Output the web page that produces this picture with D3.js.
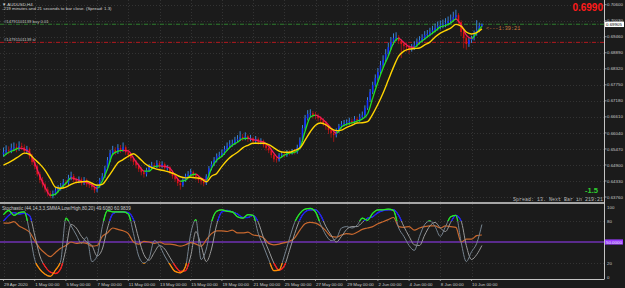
<!DOCTYPE html>
<html>
<head>
<meta charset="utf-8">
<script src="https://d3js.org/d3.v7.min.js"></script>
<style>
  html, body { margin: 0; padding: 0; background: #1b1b1b; }
  svg { display: block; }
  text { font-family: "Liberation Sans", Arial, sans-serif; }
  .mono { font-family: "Liberation Mono", "DejaVu Sans Mono", monospace; }
</style>
</head>
<body>
<svg id="chart" width="625" height="288"></svg>
<script>
  // AUDUSD H4 bars, 29 Apr 00:00 .. 10 Jun 16:00 (open = previous close)
  const firstOpen = 0.6528;
  const closes = [
    .6535,.6542,.6539,.6550,.6553,.6546,.6557,.6553,.6539,.6546,
    .6521,.6500,.6485,.6457,.6436,.6421,.6403,.6389,.6379,.6389,
    .6400,.6407,.6414,.6428,.6425,.6443,.6450,.6436,.6432,.6439,
    .6425,.6436,.6421,.6418,.6411,.6400,.6414,.6436,.6450,.6478,
    .6507,.6532,.6542,.6535,.6550,.6542,.6553,.6535,.6525,.6514,
    .6500,.6489,.6475,.6464,.6457,.6471,.6482,.6489,.6485,.6496,
    .6485,.6493,.6478,.6482,.6464,.6450,.6439,.6425,.6418,.6436,
    .6450,.6457,.6464,.6453,.6446,.6436,.6432,.6425,.6450,.6478,
    .6493,.6507,.6521,.6525,.6532,.6546,.6557,.6564,.6567,.6578,
    .6582,.6589,.6585,.6592,.6582,.6585,.6574,.6582,.6571,.6574,
    .6560,.6550,.6542,.6525,.6510,.6507,.6525,.6528,.6525,.6535,
    .6532,.6539,.6535,.6553,.6578,.6621,.6656,.6671,.6674,.6667,
    .6664,.6656,.6649,.6639,.6628,.6614,.6603,.6596,.6610,.6628,
    .6635,.6639,.6642,.6646,.6642,.6653,.6649,.6660,.6667,.6692,
    .6721,.6749,.6774,.6799,.6820,.6845,.6863,.6884,.6909,.6927,
    .6941,.6945,.6931,.6920,.6913,.6909,.6902,.6906,.6917,.6927,
    .6934,.6941,.6952,.6956,.6963,.6970,.6977,.6984,.6988,.6991,
    .6995,.7002,.7006,.7016,.7023,.6998,.6963,.6941,.6920,.6934,
    .6941,.6959,.6970,.6984,.6990
  ];
  const highs = [
    .6552,.6560,.6556,.6566,.6570,.6566,.6574,.6569,.6563,.6558,
    .6552,.6530,.6510,.6492,.6466,.6447,.6428,.6412,.6398,.6399,
    .6410,.6418,.6426,.6440,.6437,.6455,.6466,.6458,.6445,.6449,
    .6446,.6447,.6442,.6430,.6425,.6417,.6421,.6444,.6461,.6487,
    .6518,.6544,.6558,.6553,.6564,.6561,.6570,.6560,.6545,.6532,
    .6520,.6508,.6495,.6482,.6472,.6480,.6493,.6501,.6498,.6507,
    .6504,.6503,.6499,.6490,.6487,.6470,.6457,.6445,.6431,.6443,
    .6459,.6468,.6476,.6470,.6460,.6452,.6445,.6440,.6457,.6486,
    .6503,.6518,.6531,.6537,.6545,.6558,.6570,.6578,.6580,.6590,
    .6596,.6610,.6600,.6606,.6598,.6597,.6590,.6593,.6588,.6585,
    .6580,.6568,.6556,.6548,.6530,.6519,.6532,.6537,.6536,.6543,
    .6542,.6547,.6546,.6562,.6588,.6632,.6668,.6685,.6688,.6682,
    .6679,.6673,.6664,.6657,.6646,.6633,.6622,.6615,.6620,.6636,
    .6646,.6650,.6652,.6658,.6655,.6664,.6662,.6672,.6680,.6702,
    .6731,.6760,.6786,.6812,.6835,.6860,.6880,.6902,.6925,.6945,
    .6958,.6962,.6952,.6938,.6929,.6925,.6918,.6920,.6930,.6940,
    .6948,.6955,.6966,.6970,.6978,.6985,.6993,.7000,.7004,.7007,
    .7012,.7018,.7025,.7035,.7042,.7030,.7005,.6970,.6948,.6942,
    .6950,.6968,.7005,.6996,.6993
  ];
  const lows = [
    .6519,.6527,.6528,.6532,.6541,.6535,.6540,.6544,.6528,.6531,
    .6512,.6490,.6474,.6449,.6425,.6410,.6392,.6378,.6372,.6371,
    .6382,.6392,.6399,.6408,.6416,.6419,.6436,.6428,.6422,.6425,
    .6417,.6419,.6412,.6408,.6401,.6390,.6393,.6409,.6430,.6444,
    .6471,.6500,.6524,.6525,.6529,.6533,.6537,.6526,.6515,.6503,
    .6490,.6478,.6465,.6453,.6445,.6449,.6466,.6476,.6475,.6479,
    .6477,.6478,.6469,.6470,.6456,.6441,.6430,.6415,.6402,.6412,
    .6430,.6444,.6450,.6445,.6436,.6426,.6420,.6414,.6419,.6445,
    .6471,.6486,.6499,.6512,.6518,.6526,.6540,.6550,.6555,.6561,
    .6570,.6575,.6575,.6578,.6572,.6574,.6565,.6568,.6562,.6563,
    .6552,.6541,.6532,.6515,.6500,.6498,.6502,.6517,.6516,.6519,
    .6524,.6527,.6527,.6530,.6548,.6572,.6615,.6648,.6660,.6655,
    .6652,.6645,.6638,.6628,.6615,.6600,.6587,.6572,.6588,.6604,
    .6620,.6627,.6630,.6633,.6632,.6636,.6640,.6643,.6654,.6661,
    .6686,.6714,.6742,.6768,.6790,.6812,.6836,.6856,.6877,.6900,
    .6918,.6930,.6920,.6870,.6898,.6893,.6885,.6893,.6899,.6910,
    .6919,.6926,.6934,.6943,.6948,.6955,.6962,.6968,.6972,.6976,
    .6980,.6986,.6993,.7000,.7008,.6985,.6948,.6905,.6900,.6910,
    .6924,.6933,.6950,.6962,.6980
  ];

  // indicator values, read every second bar (bar 0, 2, 4 ... 184)
  const fastMA = [
    .6521,.6535,.6542,.6550,.6546,.6534,.6496,.6450,.6411,.6382,
    .6386,.6407,.6425,.6444,.6439,.6432,.6428,.6419,.6407,.6432,
    .6476,.6528,.6539,.6542,.6540,.6514,.6489,.6468,.6468,.6484,
    .6487,.6485,.6478,.6453,.6432,.6436,.6453,.6457,.6443,.6436,
    .6478,.6507,.6521,.6542,.6560,.6571,.6584,.6585,.6580,.6576,
    .6571,.6557,.6532,.6514,.6525,.6532,.6535,.6550,.6610,.6660,
    .6667,.6658,.6642,.6621,.6603,.6625,.6635,.6640,.6646,.6653,
    .6671,.6728,.6785,.6835,.6877,.6923,.6940,.6925,.6911,.6908,
    .6924,.6938,.6952,.6966,.6981,.6986,.6995,.7009,.6988,.6952,
    .6940,.6961,.6984
  ];
  const slowMA = [
    .6489,.6498,.6509,.6521,.6532,.6528,.6510,.6493,.6471,.6441,
    .6411,.6407,.6411,.6421,.6428,.6430,.6432,.6425,.6418,.6421,
    .6444,.6471,.6498,.6509,.6521,.6530,.6516,.6498,.6485,.6478,
    .6473,.6469,.6464,.6457,.6448,.6444,.6446,.6444,.6441,.6430,
    .6450,.6460,.6485,.6507,.6523,.6535,.6551,.6560,.6567,.6567,
    .6567,.6562,.6551,.6539,.6535,.6535,.6542,.6550,.6578,.6608,
    .6631,.6639,.6633,.6619,.6612,.6614,.6624,.6631,.6639,.6640,
    .6644,.6671,.6706,.6746,.6792,.6838,.6877,.6895,.6902,.6904,
    .6906,.6917,.6927,.6945,.6959,.6968,.6977,.6990,.6984,.6963,
    .6956,.6961,.6974
  ];
  const stochMain = [
    89,95,88,92,93,65,25,11,4,1,
    10,23,84,73,60,48,57,22,30,72,
    95,93,93,93,90,62,30,20,27,52,
    45,30,18,8,6,15,62,82,25,40,
    78,94,96,94,93,86,84,89,88,62,
    44,25,9,10,30,55,78,91,97,98,
    93,75,60,52,55,70,72,70,74,84,
    81,91,96,96,97,95,70,58,45,38,
    58,75,80,72,58,72,86,88,50,22,
    36,48,75
  ];
  const stochSignal = [
    80,88,92,90,91,88,60,30,15,7,
    5,12,40,75,70,58,50,45,30,40,
    70,90,93,93,92,82,55,32,24,35,
    45,40,28,16,8,9,30,65,45,22,
    40,75,93,95,93,90,85,85,88,78,
    56,38,20,10,16,38,62,82,93,96,
    96,88,72,60,50,58,68,72,72,78,
    84,86,92,95,96,96,88,72,58,46,
    45,60,73,78,70,65,78,88,80,45,
    25,32,45
  ];
  const stochSlow = [
    77,77,79,73,69,64,52,41,34,29,
    35,41,45,50,48,49,48,44,45,58,
    63,70,68,66,62,50,47,51,50,48,
    50,47,47,46,44,46,49,47,44,53,
    62,66,66,65,67,63,63,64,60,59,
    56,48,46,47,49,51,56,67,76,78,
    77,73,66,58,57,60,62,61,64,68,
    70,72,76,79,82,85,72,71,72,67,
    70,72,73,73,70,73,72,71,50,54,
    54,59,60
  ];

  const priceTicks = [0.70600, 0.70030, 0.69460, 0.68890, 0.68320, 0.67750, 0.67180,
                      0.66610, 0.66040, 0.65470, 0.64900, 0.64330, 0.63760];
  const stochTicks = [100, 80, 20, 0];
  const timeTickBars = [0, 12, 24, 36, 48, 60, 72, 84, 96, 108, 120, 132, 144, 156, 168, 180];
  const timeTickLabels = ["29 Apr 2020", "1 May 00:00", "5 May 00:00", "7 May 00:00", "11 May 00:00",
                          "13 May 00:00", "15 May 00:00", "19 May 00:00", "21 May 00:00", "25 May 00:00",
                          "27 May 00:00", "29 May 00:00", "2 Jun 00:00", "4 Jun 00:00", "8 Jun 00:00",
                          "10 Jun 00:00"];
  const bidPrice = 0.69905;
  const buyPrice = 0.69905;
  const slPrice = 0.6926;

  const svg = d3.select("#chart");
  const axisX = 604.5;
  const bottomY = 279;
  const sepY = 203;

  const x = d3.scaleLinear().domain([0, 184]).range([3.5, 481.9]);
  const yPrice = d3.scaleLinear().domain([0.6376, 0.7060]).range([197, 4.7]);
  const yStoch = d3.scaleLinear().domain([0, 100]).range([277, 207]);
  const maBars = d3.range(0, 185, 2);

  svg.append("rect").attr("width", 625).attr("height", 288).attr("fill", "#1b1b1b");

  const defs = svg.append("defs");
  defs.append("clipPath").attr("id", "mainClip")
    .append("rect").attr("x", 0).attr("y", 0).attr("width", axisX).attr("height", sepY - 1);
  defs.append("clipPath").attr("id", "subClip")
    .append("rect").attr("x", 0).attr("y", sepY + 1).attr("width", axisX).attr("height", bottomY - sepY - 1);

  // grid
  const grid = svg.append("g")
    .attr("stroke", "#3e3e3e").attr("stroke-width", 0.7).attr("stroke-dasharray", "1,2");
  priceTicks.forEach(p => {
    grid.append("line").attr("x1", 0).attr("x2", axisX)
      .attr("y1", Math.round(yPrice(p)) + 0.5).attr("y2", Math.round(yPrice(p)) + 0.5);
  });
  [80, 20].forEach(v => {
    grid.append("line").attr("x1", 0).attr("x2", axisX)
      .attr("y1", Math.round(yStoch(v)) + 0.5).attr("y2", Math.round(yStoch(v)) + 0.5);
  });
  timeTickBars.forEach(b => {
    grid.append("line").attr("x1", Math.round(x(b)) + 0.5).attr("x2", Math.round(x(b)) + 0.5)
      .attr("y1", 0).attr("y2", bottomY);
  });

  // trade lines
  svg.append("line").attr("x1", 0).attr("x2", axisX)
    .attr("y1", yPrice(buyPrice)).attr("y2", yPrice(buyPrice))
    .attr("stroke", "#2e7d2e").attr("stroke-width", 1).attr("stroke-dasharray", "4,1.5,1,1.5");
  svg.append("line").attr("x1", 0).attr("x2", axisX)
    .attr("y1", yPrice(slPrice)).attr("y2", yPrice(slPrice))
    .attr("stroke", "#b3191f").attr("stroke-width", 1).attr("stroke-dasharray", "4,1.5,1,1.5");

  // candles
  const main = svg.append("g").attr("clip-path", "url(#mainClip)");
  const bars = closes.map((c, i) => ({ i, o: i ? closes[i - 1] : firstOpen, h: highs[i], l: lows[i], c }));
  main.append("g").selectAll("line").data(bars).join("line")
    .attr("x1", d => x(d.i)).attr("x2", d => x(d.i))
    .attr("y1", d => yPrice(d.h)).attr("y2", d => yPrice(d.l))
    .attr("stroke", d => d.c >= d.o ? "#3b8fe8" : "#a81616")
    .attr("stroke-width", 0.9);
  main.append("g").selectAll("rect").data(bars).join("rect")
    .attr("x", d => x(d.i) - 0.8).attr("width", 1.6)
    .attr("y", d => yPrice(Math.max(d.o, d.c)))
    .attr("height", d => Math.max(0.7, Math.abs(yPrice(d.o) - yPrice(d.c))))
    .attr("fill", d => d.c >= d.o ? "#1430ff" : "#e01212");

  // fast MA, green when rising, red when falling
  const fastLine = d3.line().x((d, k) => x(maBars[k])).y(d => yPrice(d)).curve(d3.curveMonotoneX);
  ["up", "down"].forEach(dir => {
    const cp = defs.append("clipPath").attr("id", "fast-" + dir);
    for (let k = 1; k < fastMA.length; k++) {
      const rising = fastMA[k] >= fastMA[k - 1];
      if ((dir === "up") === rising) {
        cp.append("rect").attr("x", x(maBars[k - 1]) - 0.1).attr("width", x(maBars[k]) - x(maBars[k - 1]) + 0.2)
          .attr("y", 0).attr("height", sepY);
      }
    }
    main.append("g").attr("clip-path", "url(#fast-" + dir + ")")
      .append("path").attr("d", fastLine(fastMA)).attr("fill", "none")
      .attr("stroke", dir === "up" ? "#22e022" : "#f01c5e").attr("stroke-width", 1.3);
  });

  main.append("path").attr("d", fastLine(slowMA)).attr("fill", "none")
    .attr("stroke", "#ffd400").attr("stroke-width", 1.4);

  // stochastic window
  const sub = svg.append("g").attr("clip-path", "url(#subClip)");
  const stochLine = d3.line().x((d, k) => x(maBars[k])).y(d => yStoch(d)).curve(d3.curveMonotoneX);
  defs.append("clipPath").attr("id", "stHigh")
    .append("rect").attr("x", 0).attr("y", sepY).attr("width", axisX).attr("height", yStoch(80) - sepY);
  defs.append("clipPath").attr("id", "stLow")
    .append("rect").attr("x", 0).attr("y", yStoch(20)).attr("width", axisX).attr("height", bottomY - yStoch(20));

  sub.append("line").attr("x1", 0).attr("x2", axisX)
    .attr("y1", yStoch(50)).attr("y2", yStoch(50))
    .attr("stroke", "#9a3cff").attr("stroke-width", 1.1);

  sub.append("path").attr("d", stochLine(stochSlow)).attr("fill", "none")
    .attr("stroke", "#c8682e").attr("stroke-width", 1.2);

  function stochWithZones(values, base, hiColor, loColor) {
    const d = stochLine(values);
    sub.append("path").attr("d", d).attr("fill", "none").attr("stroke", base).attr("stroke-width", 1);
    sub.append("g").attr("clip-path", "url(#stHigh)").append("path").attr("d", d)
      .attr("fill", "none").attr("stroke", hiColor).attr("stroke-width", 1.3);
    sub.append("g").attr("clip-path", "url(#stLow)").append("path").attr("d", d)
      .attr("fill", "none").attr("stroke", loColor).attr("stroke-width", 1.3);
  }
  stochWithZones(stochSignal, "#9a9a9a", "#1a1aff", "#ff1a1a");
  stochWithZones(stochMain, "#76838f", "#1ff01f", "#ff8c00");

  // frame
  svg.append("line").attr("x1", 0).attr("x2", axisX).attr("y1", sepY).attr("y2", sepY)
    .attr("stroke", "#a6a6a6").attr("stroke-width", 2);
  svg.append("line").attr("x1", axisX).attr("x2", axisX).attr("y1", 0).attr("y2", bottomY)
    .attr("stroke", "#c4c4c4").attr("stroke-width", 1);
  svg.append("line").attr("x1", 0).attr("x2", axisX).attr("y1", bottomY + 0.5).attr("y2", bottomY + 0.5)
    .attr("stroke", "#c4c4c4").attr("stroke-width", 1);

  // price axis
  const axisText = "#c8c8c8";
  priceTicks.forEach(p => {
    svg.append("line").attr("x1", axisX).attr("x2", axisX + 2)
      .attr("y1", yPrice(p)).attr("y2", yPrice(p)).attr("stroke", "#c4c4c4").attr("stroke-width", 0.7);
    svg.append("text").attr("x", 607).attr("y", yPrice(p) + 1.6)
      .attr("font-size", 4.4).attr("fill", axisText).text(d3.format(".5f")(p));
  });
  svg.append("rect").attr("x", 605).attr("y", yPrice(bidPrice) - 2.6).attr("width", 19).attr("height", 5.4)
    .attr("fill", "#ffffff");
  svg.append("text").attr("x", 606).attr("y", yPrice(bidPrice) + 1.6)
    .attr("font-size", 4.4).attr("fill", "#000").text(d3.format(".5f")(bidPrice));

  stochTicks.forEach(v => {
    svg.append("text").attr("x", 607).attr("y", yStoch(v) + 1.6)
      .attr("font-size", 4.4).attr("fill", axisText).text(v);
  });
  svg.append("rect").attr("x", 605).attr("y", yStoch(50) - 2.6).attr("width", 18).attr("height", 5.2)
    .attr("fill", "#9a3cff");
  svg.append("text").attr("x", 606).attr("y", yStoch(50) + 1.6)
    .attr("font-size", 4.4).attr("fill", "#e8e8e8").text("50.0000");

  // time axis
  timeTickBars.forEach((b, k) => {
    svg.append("line").attr("x1", x(b)).attr("x2", x(b)).attr("y1", bottomY).attr("y2", bottomY + 2)
      .attr("stroke", "#c4c4c4").attr("stroke-width", 0.7);
    svg.append("text").attr("x", x(b) + 0.5).attr("y", 285.5)
      .attr("font-size", 4.4).attr("fill", axisText).text(timeTickLabels[k]);
  });

  // labels
  svg.append("text").attr("x", 2).attr("y", 5.5).attr("font-size", 4.4).attr("fill", "#d0d0d0")
    .text("\u25BC AUDUSD,H4");
  svg.append("text").attr("x", 2).attr("y", 10.4).attr("font-size", 4.4).attr("fill", "#d0d0d0")
    .text("-219 minutes and 21 seconds to bar close. (Spread: 1.3)");
  svg.append("text").attr("x", 4).attr("y", yPrice(buyPrice) - 1.4).attr("font-size", 4.2).attr("fill", "#c0c0c0")
    .text("#14791101139 buy 0.01");
  svg.append("text").attr("x", 4).attr("y", yPrice(slPrice) - 1.4).attr("font-size", 4.2).attr("fill", "#c0c0c0")
    .text("#14791101139 sl");
  svg.append("text").attr("x", 603).attr("y", 11).attr("text-anchor", "end")
    .attr("font-size", 10).attr("font-weight", "bold").attr("fill", "#ff1a1a").text("0.6990");
  svg.append("text").attr("class", "mono").attr("x", 486).attr("y", 30)
    .attr("font-size", 5.2).attr("fill", "#c87a3c").text("<---1:39:21");
  svg.append("text").attr("x", 598).attr("y", 193).attr("text-anchor", "end")
    .attr("font-size", 7.6).attr("font-weight", "bold").attr("fill", "#2fcf2f").text("-1.5");
  svg.append("text").attr("class", "mono").attr("x", 603).attr("y", 201.3).attr("text-anchor", "end")
    .attr("font-size", 5).attr("fill", "#b8b8b8").text("Spread: 13. Next Bar in 219:21");
  svg.append("text").attr("x", 2).attr("y", 210).attr("font-size", 4.6).attr("fill", "#c8c8c8")
    .text("Stochastic (44,14,3,3,SMMA,Low/High,80,20) 49.6080 60.9839");
</script>
</body>
</html>
